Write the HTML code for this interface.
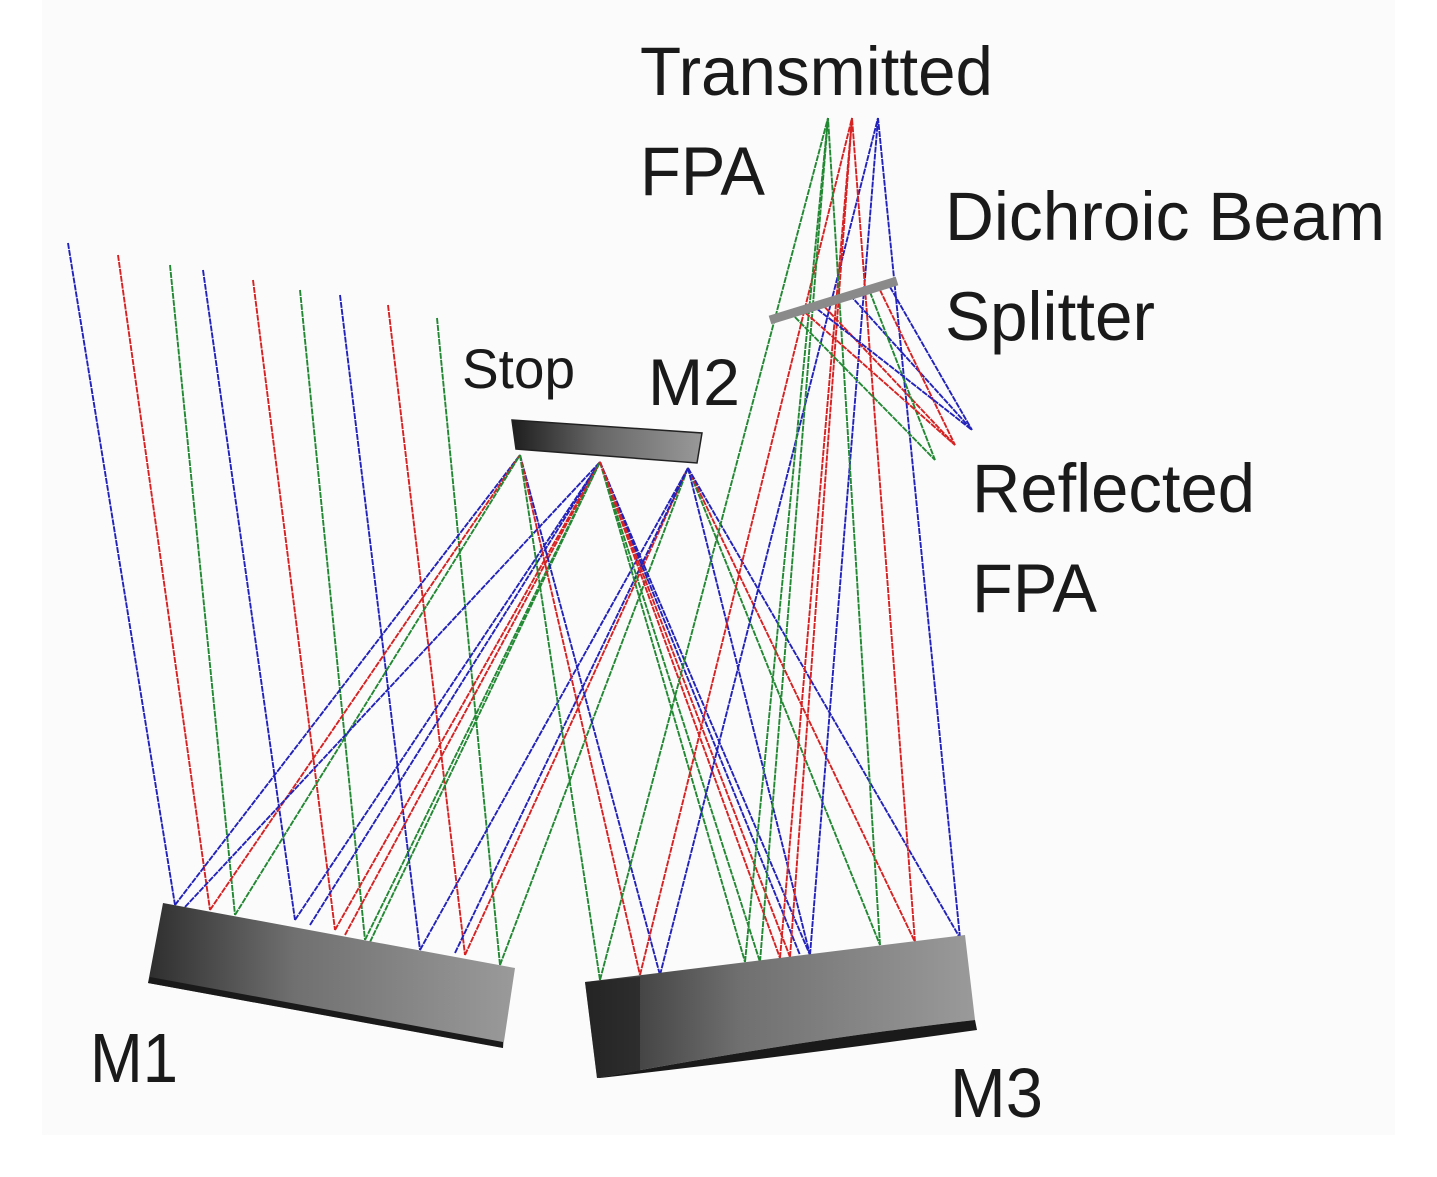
<!DOCTYPE html>
<html><head><meta charset="utf-8"><style>
html,body{margin:0;padding:0;background:#fff;}
svg{display:block;}
text{font-family:"Liberation Sans",sans-serif;fill:#1a1a1a;}
</style></head><body>
<svg width="1437" height="1177" viewBox="0 0 1437 1177" xmlns="http://www.w3.org/2000/svg">
<defs>
<linearGradient id="g1" x1="0" x2="1" y1="0" y2="0">
<stop offset="0" stop-color="#2e2e2e"/><stop offset="0.4" stop-color="#707070"/><stop offset="1" stop-color="#9a9a9a"/>
</linearGradient>
<linearGradient id="g2" x1="0" x2="1"><stop offset="0" stop-color="#1e1e1e"/><stop offset="0.45" stop-color="#666"/><stop offset="1" stop-color="#999"/></linearGradient>
</defs>
<rect x="42" y="0" width="1353" height="1135" fill="#fbfbfb"/>
<g stroke-width="1.9" fill="none" stroke-dasharray="6 1">
<g>
<line x1="68" y1="243" x2="175" y2="905" stroke="#2222bb"/>
<line x1="118" y1="255" x2="210" y2="910" stroke="#d62222"/>
<line x1="170" y1="265" x2="235" y2="915" stroke="#228833"/>
<line x1="203" y1="270" x2="295" y2="920" stroke="#2222bb"/>
<line x1="253" y1="280" x2="335" y2="930" stroke="#d62222"/>
<line x1="300" y1="290" x2="365" y2="940" stroke="#228833"/>
<line x1="340" y1="295" x2="420" y2="950" stroke="#2222bb"/>
<line x1="388" y1="305" x2="465" y2="955" stroke="#d62222"/>
<line x1="437" y1="318" x2="500" y2="965" stroke="#228833"/>
</g>
<g>
<line x1="175" y1="905" x2="520" y2="455" stroke="#2222bb"/>
<line x1="210" y1="910" x2="520" y2="455" stroke="#d62222"/>
<line x1="235" y1="915" x2="520" y2="455" stroke="#228833"/>
<line x1="185" y1="907" x2="600" y2="462" stroke="#2222bb"/>
<line x1="295" y1="920" x2="600" y2="462" stroke="#2222bb"/>
<line x1="335" y1="930" x2="600" y2="462" stroke="#d62222"/>
<line x1="365" y1="940" x2="600" y2="462" stroke="#228833"/>
<line x1="310" y1="925" x2="600" y2="462" stroke="#2222bb"/>
<line x1="345" y1="935" x2="600" y2="462" stroke="#d62222"/>
<line x1="370" y1="942" x2="600" y2="462" stroke="#228833"/>
<line x1="420" y1="950" x2="688" y2="468" stroke="#2222bb"/>
<line x1="465" y1="955" x2="688" y2="468" stroke="#d62222"/>
<line x1="500" y1="965" x2="688" y2="468" stroke="#228833"/>
<line x1="455" y1="953" x2="688" y2="468" stroke="#2222bb"/>
</g>
<g>
<line x1="520" y1="455" x2="660" y2="975" stroke="#2222bb"/>
<line x1="520" y1="455" x2="640" y2="975" stroke="#d62222"/>
<line x1="520" y1="455" x2="600" y2="980" stroke="#228833"/>
<line x1="600" y1="462" x2="760" y2="962" stroke="#228833"/>
<line x1="600" y1="462" x2="780" y2="958" stroke="#d62222"/>
<line x1="600" y1="462" x2="800" y2="955" stroke="#2222bb"/>
<line x1="600" y1="462" x2="810" y2="955" stroke="#2222bb"/>
<line x1="600" y1="462" x2="745" y2="962" stroke="#228833"/>
<line x1="600" y1="462" x2="790" y2="957" stroke="#d62222"/>
<line x1="688" y1="468" x2="880" y2="945" stroke="#228833"/>
<line x1="688" y1="468" x2="915" y2="942" stroke="#d62222"/>
<line x1="688" y1="468" x2="960" y2="938" stroke="#2222bb"/>
<line x1="688" y1="468" x2="810" y2="955" stroke="#2222bb"/>
</g>
<g>
<line x1="600" y1="980" x2="828" y2="118" stroke="#228833"/>
<line x1="640" y1="975" x2="852" y2="118" stroke="#d62222"/>
<line x1="660" y1="975" x2="878" y2="118" stroke="#2222bb"/>
<line x1="745" y1="962" x2="828" y2="118" stroke="#228833"/>
<line x1="780" y1="958" x2="852" y2="118" stroke="#d62222"/>
<line x1="810" y1="955" x2="878" y2="118" stroke="#2222bb"/>
<line x1="880" y1="945" x2="828" y2="118" stroke="#228833"/>
<line x1="915" y1="942" x2="852" y2="118" stroke="#d62222"/>
<line x1="960" y1="938" x2="878" y2="118" stroke="#2222bb"/>
<line x1="760" y1="962" x2="828" y2="118" stroke="#228833"/>
<line x1="790" y1="957" x2="852" y2="118" stroke="#d62222"/>
</g>
<g>
<line x1="790" y1="312" x2="935" y2="460" stroke="#228833"/>
<line x1="820" y1="302" x2="955" y2="445" stroke="#d62222"/>
<line x1="850" y1="295" x2="972" y2="430" stroke="#2222bb"/>
<line x1="870" y1="292" x2="935" y2="460" stroke="#228833"/>
<line x1="880" y1="290" x2="955" y2="445" stroke="#d62222"/>
<line x1="890" y1="287" x2="972" y2="430" stroke="#2222bb"/>
<line x1="812" y1="305" x2="972" y2="430" stroke="#2222bb"/>
<line x1="800" y1="308" x2="955" y2="445" stroke="#d62222"/>
</g>
</g>
<line x1="770" y1="320" x2="897" y2="281" stroke="#8a8a8a" stroke-width="9"/>
<polygon points="512,420 702,433 697,463 516,449" fill="url(#g2)" stroke="#222" stroke-width="1.5"/>
<polygon points="163,903 515,968 503,1048 148,983" fill="url(#g1)"/>
<polygon points="148,983 503,1048 503,1042 150,977" fill="#1a1a1a"/>
<path d="M585,982 L965,935 L975,1020 Q800,1040 597,1078 Z" fill="url(#g1)"/>
<path d="M597,1078 Q800,1040 975,1020 L977,1030 Q800,1055 600,1078 Z" fill="#1a1a1a"/>
<path d="M585,982 L640,977 L640,1072 L597,1078 Z" fill="#1e1e1e" opacity="0.6"/>
<text x="640" y="95" font-size="69" textLength="353" lengthAdjust="spacingAndGlyphs">Transmitted</text>
<text x="640" y="195" font-size="69" textLength="125" lengthAdjust="spacingAndGlyphs">FPA</text>
<text x="945" y="240" font-size="69" textLength="440" lengthAdjust="spacingAndGlyphs">Dichroic Beam</text>
<text x="945" y="340" font-size="69" textLength="210" lengthAdjust="spacingAndGlyphs">Splitter</text>
<text x="462" y="388" font-size="56" textLength="113" lengthAdjust="spacingAndGlyphs">Stop</text>
<text x="648" y="405" font-size="66" textLength="92" lengthAdjust="spacingAndGlyphs">M2</text>
<text x="972" y="512" font-size="69" textLength="283" lengthAdjust="spacingAndGlyphs">Reflected</text>
<text x="972" y="612" font-size="69" textLength="125" lengthAdjust="spacingAndGlyphs">FPA</text>
<text x="90" y="1082" font-size="70" textLength="88" lengthAdjust="spacingAndGlyphs">M1</text>
<text x="950" y="1117" font-size="70" textLength="93" lengthAdjust="spacingAndGlyphs">M3</text>
</svg>
</body></html>
